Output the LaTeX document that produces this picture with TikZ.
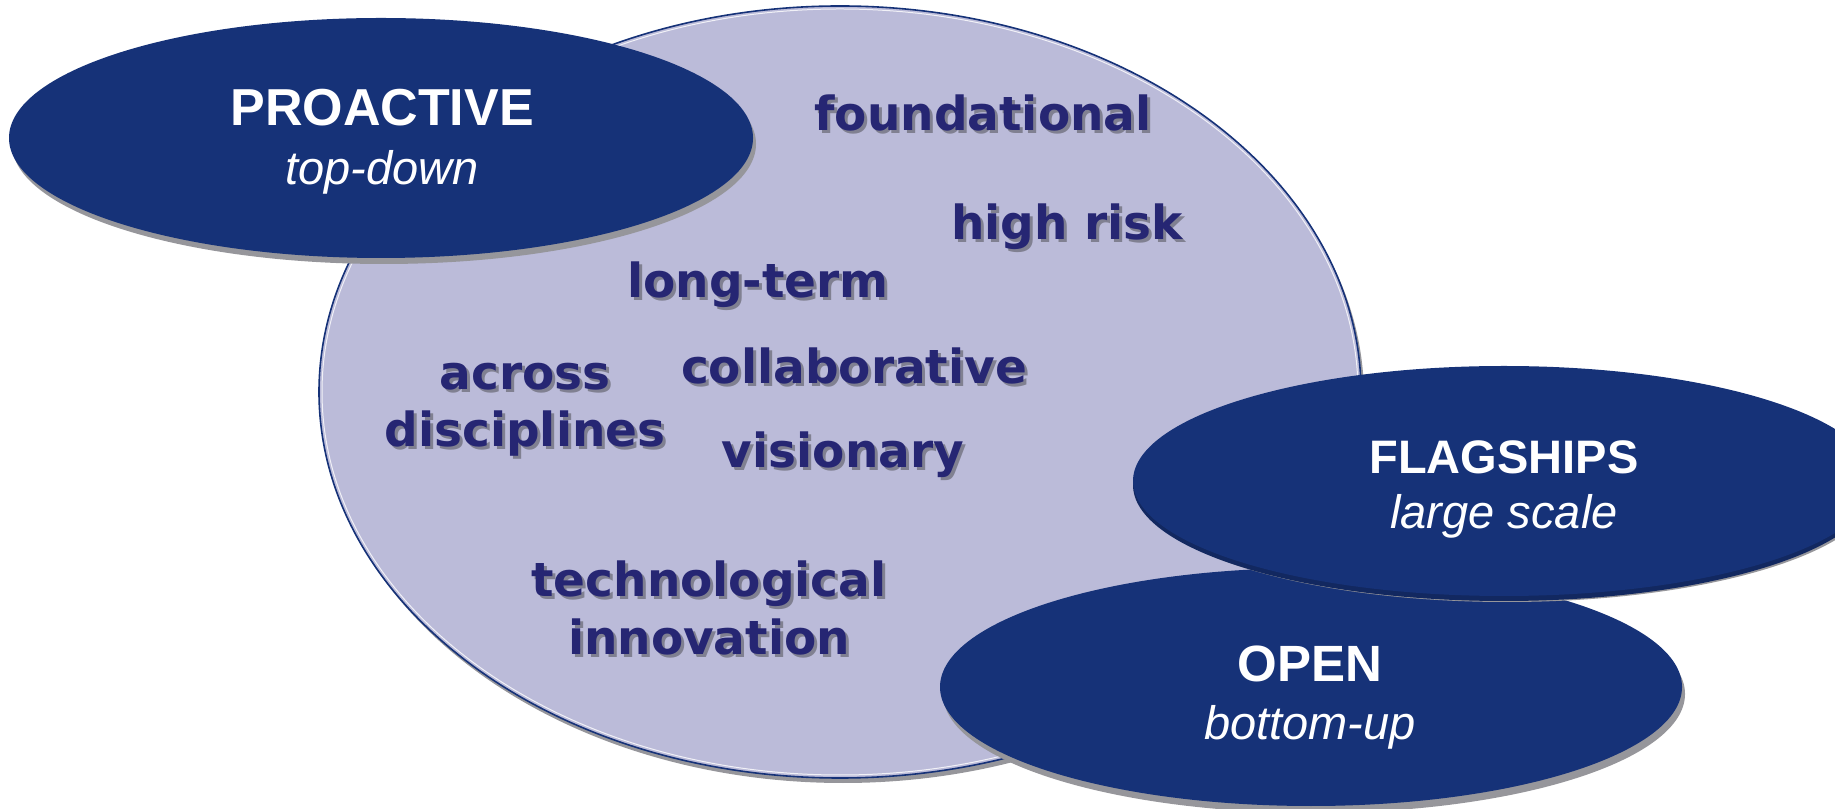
\documentclass[tikz,border=0pt]{standalone}
\usepackage{fontspec}
\newfontfamily\wordfont{DejaVu Sans}
\newfontfamily\headfont{Liberation Sans}
\definecolor{navy}{RGB}{22,50,120}
\definecolor{lav}{RGB}{187,187,217}
\definecolor{wordcol}{RGB}{38,38,115}
\definecolor{shcol}{RGB}{128,128,145}
\definecolor{elsh}{RGB}{150,150,155}
\tikzset{
  word/.style={font=\wordfont\bfseries\fontsize{47}{50}\selectfont, text=wordcol, anchor=base, inner sep=0pt},
  wordsh/.style={font=\wordfont\bfseries\fontsize{47}{50}\selectfont, text=shcol, anchor=base, inner sep=0pt},
  head/.style={font=\headfont\bfseries\fontsize{#1}{#1}\selectfont, text=white, anchor=base, inner sep=0pt},
  sub/.style={font=\headfont\itshape\fontsize{47}{50}\selectfont, text=white, anchor=base, inner sep=0pt},
  blob/.style={fill=navy},
  blobsh/.style={fill=elsh}
}
\newcommand{\sword}[3]{%
  \node[wordsh] (#1sh) at ($(#2)+(3pt,-3pt)$) {#3};
  \node[word] (#1) at (#2) {#3};}
\usetikzlibrary{calc}
\begin{document}
\begin{tikzpicture}
\useasboundingbox (0,0) rectangle (1835pt,808pt);
% big ellipse
\fill[elsh] (843pt,411pt) ellipse [x radius=521pt, y radius=386pt];
\draw[fill=lav, draw=navy, line width=1.6pt] (840pt,416pt) ellipse [x radius=521pt, y radius=386pt];
\draw[white!80!lav, line width=1pt] (840pt,416pt) ellipse [x radius=518pt, y radius=383pt];
% words
\coordinate (pf) at (983pt,677pt);
\coordinate (ph) at (1067pt,568pt);
\coordinate (pl) at (758pt,510pt);
\coordinate (pa) at (525pt,418pt);
\coordinate (pd) at (525pt,361pt);
\coordinate (pc) at (854pt,424pt);
\coordinate (pv) at (843pt,340pt);
\coordinate (pt) at (709pt,211pt);
\coordinate (pi) at (709pt,153pt);
\sword{wf}{pf}{foundational}
\sword{wh}{ph}{high risk}
\sword{wl}{pl}{long-term}
\sword{wa}{pa}{across}
\sword{wd}{pd}{disciplines}
\sword{wc}{pc}{collaborative}
\sword{wv}{pv}{visionary}
\sword{wt}{pt}{technological}
\sword{wi}{pi}{innovation}
% PROACTIVE
\fill[blobsh] (384pt,664pt) ellipse [x radius=372pt, y radius=120pt];
\fill[blob] (381pt,670pt) ellipse [x radius=372pt, y radius=120pt];
\node[head=52] (pro) at (382pt,682pt) {PROACTIVE};
\node[sub] (prosub) at (382pt,623pt) {top-down};
% OPEN
\fill[blobsh] (1314pt,114pt) ellipse [x radius=371pt, y radius=119pt];
\fill[blob] (1311pt,121pt) ellipse [x radius=371pt, y radius=119pt];
\node[head=51] (open) at (1310pt,126pt) {OPEN};
\node[sub] (opensub) at (1310pt,68pt) {bottom-up};
% FLAGSHIPS
\fill[blobsh] (1507pt,322pt) ellipse [x radius=371pt, y radius=116pt];
\fill[navy!80!black] (1504pt,323pt) ellipse [x radius=371pt, y radius=116pt];
\fill[blob] (1504pt,327pt) ellipse [x radius=371pt, y radius=115pt];
\node[head=47] (flag) at (1504pt,334pt) {FLAGSHIPS};
\node[sub] (flagsub) at (1504pt,279pt) {large scale};
\end{tikzpicture}
\end{document}
